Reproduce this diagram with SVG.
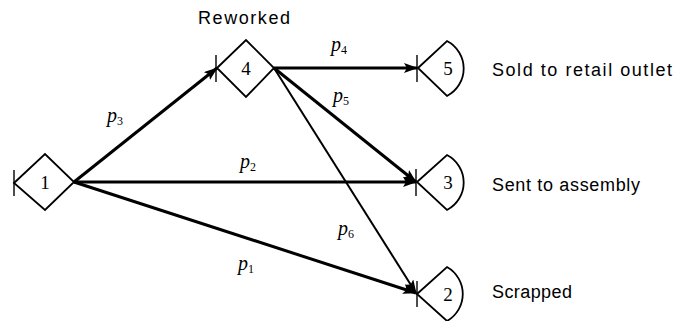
<svg xmlns="http://www.w3.org/2000/svg" width="676" height="321" viewBox="0 0 676 321">
<style>
.node{fill:none;stroke:#000;stroke-width:1.8;stroke-linejoin:miter}
.tick{stroke:#000;stroke-width:1.4}
.num{font-family:"Liberation Serif",serif;font-size:19px;text-anchor:middle}
.lbl{font-family:"Liberation Sans",sans-serif;font-size:18px}
.p{font-family:"Liberation Serif",serif;font-style:italic;font-size:20px}
.sub{font-size:12px;font-style:normal}
.edge{stroke:#000;stroke-width:3;fill:none}
</style>
<defs>
<marker id="ah" markerWidth="14" markerHeight="10" refX="13" refY="5" orient="auto" markerUnits="userSpaceOnUse">
<path d="M0,0 L14,5 L0,10 L3,5 Z" fill="#000"/>
</marker>
</defs>
<g id="connectors">
<line class="edge" x1="74" y1="182" x2="217" y2="68" marker-end="url(#ah)"/>
<line class="edge" x1="74" y1="182" x2="416" y2="182" marker-end="url(#ah)"/>
<line class="edge" x1="74" y1="182" x2="416" y2="293" marker-end="url(#ah)"/>
<line class="edge" x1="274" y1="68" x2="417" y2="68" marker-end="url(#ah)"/>
<line class="edge" x1="274" y1="68" x2="416" y2="182" marker-end="url(#ah)"/>
<line class="edge" style="stroke-width:2" x1="274" y1="68" x2="416" y2="293" marker-end="url(#ah)"/>
<text class="p" x="107" y="122">p<tspan class="sub" dy="3">3</tspan></text>
<text class="p" x="240" y="168">p<tspan class="sub" dy="3">2</tspan></text>
<text class="p" x="331" y="51">p<tspan class="sub" dy="3">4</tspan></text>
<text class="p" x="333" y="102">p<tspan class="sub" dy="3">5</tspan></text>
<text class="p" x="338" y="235">p<tspan class="sub" dy="3">6</tspan></text>
<text class="p" x="238" y="270">p<tspan class="sub" dy="3">1</tspan></text>
</g>
<g id="node1">
<path class="node" d="M14,183 L45,154 L74,182 L45,210 Z"/>
<line class="tick" x1="14" y1="170" x2="14" y2="196"/>
<text class="num" x="45" y="189">1</text>
</g>
<g id="node4">
<path class="node" d="M217,68 L246,40 L274,68 L246,97 Z"/>
<line class="tick" x1="216" y1="55" x2="216" y2="82"/>
<text class="num" x="246" y="75">4</text>
<text class="lbl" x="198" y="24" textLength="92">Reworked</text>
</g>
<g id="node5">
<path class="node" d="M418,68 L447,41 A31,31 0 0 1 447,96 Z"/>
<line class="tick" x1="417" y1="55" x2="417" y2="82"/>
<text class="num" x="448" y="75">5</text>
<text class="lbl" x="492" y="76" textLength="180">Sold to retail outlet</text>
</g>
<g id="node3">
<path class="node" d="M417,182 L447,155 A31,31 0 0 1 447,210 Z"/>
<line class="tick" x1="416" y1="169" x2="416" y2="196"/>
<text class="num" x="448" y="189">3</text>
<text class="lbl" x="492" y="191" textLength="148">Sent to assembly</text>
</g>
<g id="node2">
<path class="node" d="M417,294 L447,267 A31,31 0 0 1 447,321 Z"/>
<line class="tick" x1="417" y1="281" x2="417" y2="307"/>
<text class="num" x="448" y="301">2</text>
<text class="lbl" x="492" y="298" textLength="80">Scrapped</text>
</g>
</svg>
